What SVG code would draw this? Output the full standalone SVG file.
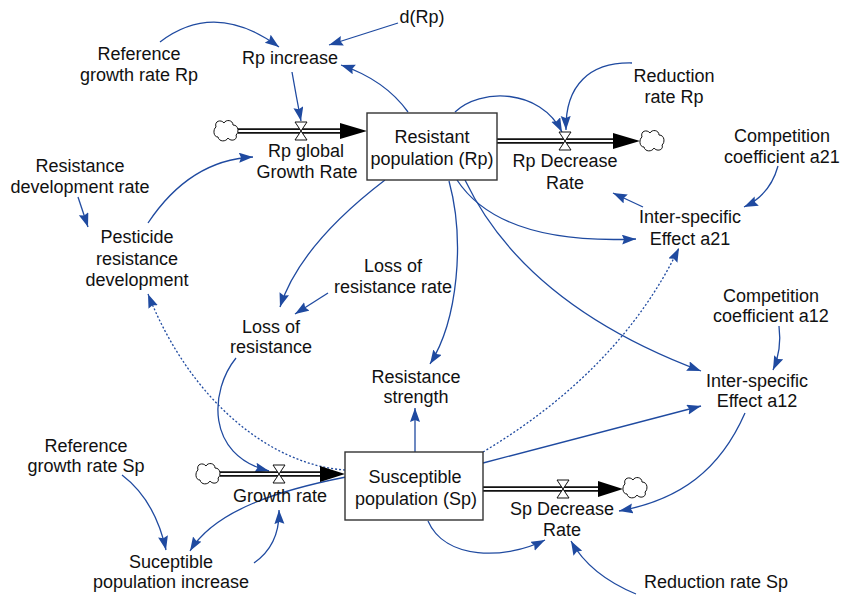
<svg xmlns="http://www.w3.org/2000/svg" width="845" height="597" viewBox="0 0 845 597">
<style>
text{font-family:"Liberation Sans",Arial,sans-serif;font-size:18px;fill:#111;text-anchor:middle}
.lk{fill:none;stroke:#1f4aa0;stroke-width:1.3;marker-end:url(#ah)}
.dot{stroke-dasharray:2,2}
.box{fill:#fff;stroke:#333;stroke-width:1.4}
.pipeo{stroke:#111;stroke-width:5.5;fill:none}
.pipei{stroke:#fff;stroke-width:1.8;fill:none}
.valve{fill:#fff;stroke:#111;stroke-width:1}
.cloud{fill:#fff;stroke:#111;stroke-width:1}
.head{fill:#000}
</style>
<defs>
<marker id="ah" markerUnits="userSpaceOnUse" markerWidth="16" markerHeight="12" refX="14" refY="5" orient="auto">
<path d="M0,0 L14,5 L0,10 L2,5 Z" fill="#1f4aa0"/>
</marker>
<path id="cl" d="M-10,-4 C-12,-10 -5,-12 -2,-8 C0,-12 7,-11 7,-6 C13,-6 13,2 10,4 C12,9 5,11 2,7 C0,11 -7,11 -8,6 C-13,6 -13,-2 -10,-4 Z"/>
<path id="vl" d="M-6,-9 L6,-9 L0,0 Z M-6,9 L6,9 L0,0 Z"/>
</defs>
<rect width="845" height="597" fill="#fff"/>

<g id="connectors">
<path class="lk" d="M160,42 Q215,0 279,47"/>
<path class="lk" d="M398,23 L329,45"/>
<path class="lk" d="M408,112 Q385,80 341,65"/>
<path class="lk" d="M292,72 Q296,95 301,121"/>
<path class="lk" d="M148,223 Q190,160 253,157"/>
<path class="lk" d="M78,197 L88,227"/>
<path class="lk" d="M455,112 C480,88 540,88 562,132"/>
<path class="lk" d="M632,63 C590,62 565,85 566,130"/>
<path class="lk" d="M778,166 Q770,195 744,207"/>
<path class="lk" d="M643,207 L613,193"/>
<path class="lk" d="M457,180 Q500,245 636,239"/>
<path class="lk" d="M385,180 Q300,245 280,307"/>
<path class="lk" d="M328,293 L295,314"/>
<path class="lk" d="M449,181 C465,240 458,320 430,364"/>
<path class="lk" d="M465,180 Q525,305 701,371"/>
<path class="lk" d="M415,452 L415,408"/>
<path class="lk" d="M483,463 L701,406"/>
<path class="lk dot" d="M483,452 Q620,370 679,248"/>
<path class="lk dot" d="M345,470 C270,465 190,400 148,294"/>
<path class="lk" d="M236,358 C210,390 205,455 269,471"/>
<path class="lk" d="M346,477 C280,490 215,510 190,551"/>
<path class="lk" d="M122,475 Q155,500 166,550"/>
<path class="lk" d="M254,563 Q280,545 279,510"/>
<path class="lk" d="M428,521 C445,560 505,560 545,540"/>
<path class="lk" d="M636,594 Q590,575 571,541"/>
<path class="lk" d="M745,413 C720,470 680,500 619,511"/>
<path class="lk" d="M779,326 Q782,350 773,370"/>
</g>

<g id="flow-rp-in">
<line class="pipeo" x1="238" y1="131" x2="342" y2="131"/>
<line class="pipei" x1="238" y1="131" x2="342" y2="131"/>
<polygon class="head" points="340,123 367,131 340,139"/>
<use href="#cl" class="cloud" x="226" y="131"/>
</g>
<g id="rp-global-growth-rate">
<use href="#vl" class="valve" x="301" y="131"/>
<text x="306" y="157">Rp global</text>
<text x="307" y="178">Growth Rate</text>
</g>

<g id="flow-rp-out">
<line class="pipeo" x1="497" y1="141" x2="615" y2="141"/>
<line class="pipei" x1="497" y1="141" x2="615" y2="141"/>
<polygon class="head" points="613,133 640,141 613,149"/>
<use href="#cl" class="cloud" x="652" y="141"/>
</g>
<g id="rp-decrease-rate">
<use href="#vl" class="valve" x="565" y="141"/>
<text x="565" y="167">Rp Decrease</text>
<text x="565" y="189">Rate</text>
</g>

<g id="flow-sp-in">
<line class="pipeo" x1="220" y1="474" x2="322" y2="474"/>
<line class="pipei" x1="220" y1="474" x2="322" y2="474"/>
<polygon class="head" points="320,466 345,474 320,482"/>
<use href="#cl" class="cloud" x="208" y="474"/>
</g>
<g id="growth-rate">
<use href="#vl" class="valve" x="279" y="474"/>
<text x="280" y="502">Growth rate</text>
</g>

<g id="flow-sp-out">
<line class="pipeo" x1="483" y1="489" x2="600" y2="489"/>
<line class="pipei" x1="483" y1="489" x2="600" y2="489"/>
<polygon class="head" points="598,481 623,489 598,497"/>
<use href="#cl" class="cloud" x="635" y="488"/>
</g>
<g id="sp-decrease-rate">
<use href="#vl" class="valve" x="563" y="489"/>
<text x="562" y="515">Sp Decrease</text>
<text x="562" y="536">Rate</text>
</g>

<g id="resistant-population">
<rect class="box" x="367" y="113" width="130" height="67"/>
<text x="432" y="143">Resistant</text>
<text x="432" y="165">population (Rp)</text>
</g>
<g id="susceptible-population">
<rect class="box" x="345" y="452" width="138" height="68"/>
<text x="415" y="483">Susceptible</text>
<text x="416" y="505">population (Sp)</text>
</g>

<g id="ref-growth-rp"><text x="139" y="60">Reference</text><text x="139" y="81">growth rate Rp</text></g>
<g id="d-rp"><text x="422" y="23">d(Rp)</text></g>
<g id="rp-increase"><text x="290" y="64">Rp increase</text></g>
<g id="reduction-rate-rp"><text x="674" y="82">Reduction</text><text x="674" y="103">rate Rp</text></g>
<g id="comp-a21"><text x="782" y="142">Competition</text><text x="782" y="163">coefficient a21</text></g>
<g id="inter-a21"><text x="690" y="223">Inter-specific</text><text x="690" y="245">Effect a21</text></g>
<g id="res-dev-rate"><text x="80" y="172">Resistance</text><text x="80" y="193">development rate</text></g>
<g id="pesticide-res-dev"><text x="137" y="243">Pesticide</text><text x="137" y="265">resistance</text><text x="137" y="286">development</text></g>
<g id="loss-res-rate"><text x="393" y="272">Loss of</text><text x="393" y="293">resistance rate</text></g>
<g id="loss-res"><text x="271" y="333">Loss of</text><text x="271" y="353">resistance</text></g>
<g id="res-strength"><text x="416" y="383">Resistance</text><text x="416" y="403">strength</text></g>
<g id="comp-a12"><text x="771" y="302">Competition</text><text x="771" y="322">coefficient a12</text></g>
<g id="inter-a12"><text x="757" y="387">Inter-specific</text><text x="757" y="407">Effect a12</text></g>
<g id="ref-growth-sp"><text x="86" y="452">Reference</text><text x="86" y="472">growth rate Sp</text></g>
<g id="sp-increase"><text x="171" y="568">Suceptible</text><text x="171" y="588">population increase</text></g>
<g id="reduction-rate-sp"><text x="716" y="588">Reduction rate Sp</text></g>
</svg>
